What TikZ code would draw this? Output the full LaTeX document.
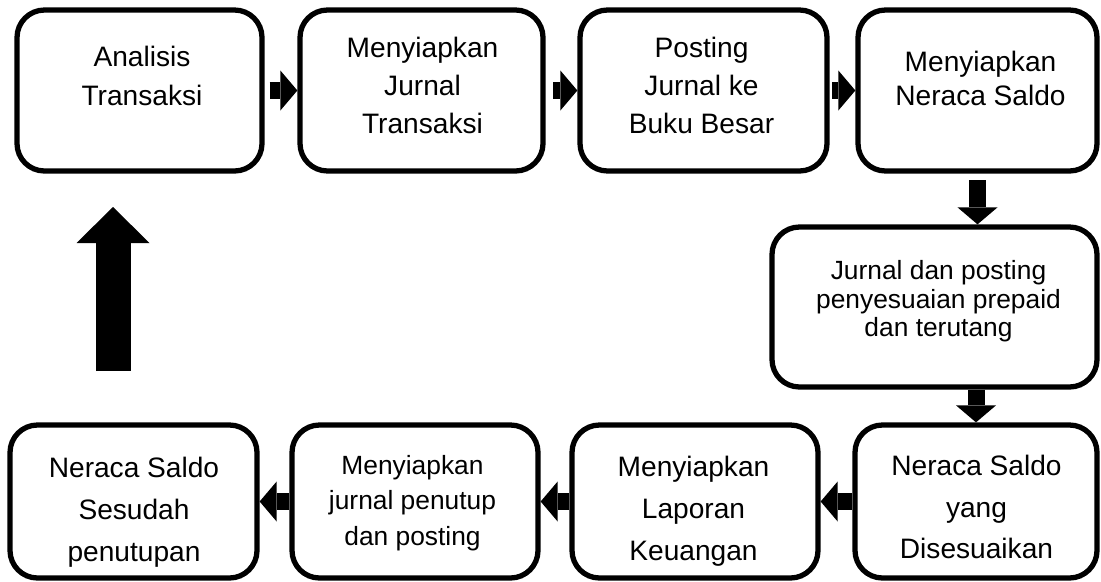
\documentclass[tikz,border=0pt]{standalone}
\usepackage{fontspec}
\setmainfont{Liberation Sans}
\usetikzlibrary{arrows.meta}

\tikzset{
  box/.style={draw, line width=3pt, rounded corners=0.55cm, minimum height=3.22cm},
  lbl/.style={align=center, font=\fontsize{16}{#1}\selectfont},
  lbl/.default=23,
  lblsmall/.style={align=center, font=\fontsize{15}{#1}\selectfont},
  lblsmall/.default=17,
  flow/.style={line width=0.34cm, -{Triangle[width=0.8cm,length=0.34cm,line width=0pt]}},
}

\begin{document}
\begin{tikzpicture}
\useasboundingbox (0,0) rectangle (22.02,11.62);

% top row
\node (b1) at (2.79,9.81) [box, minimum width=4.9cm] {};
\node (b2) at (8.43,9.81) [box, minimum width=4.86cm] {};
\node (b3) at (14.07,9.81) [box, minimum width=4.94cm] {};
\node (b4) at (19.55,9.81) [box, minimum width=4.78cm] {};

% right side
\node (b5) at (18.69,5.48) [box, minimum width=6.5cm, minimum height=3.2cm] {};

% bottom row
\node (b6) at (19.52,1.59) [box, minimum width=4.84cm, minimum height=3.06cm] {};
\node (b7) at (13.9,1.59) [box, minimum width=4.92cm, minimum height=3.06cm] {};
\node (b8) at (8.3,1.59) [box, minimum width=4.92cm, minimum height=3.06cm] {};
\node (b9) at (2.67,1.59) [box, minimum width=4.94cm, minimum height=3.06cm] {};

% box texts
\node (t1) at (2.84,10.10) [lbl=22.7] {Analisis\\Transaksi};
\node (t2) at (8.45,9.91) [lbl=21.8] {Menyiapkan\\Jurnal\\Transaksi};
\node (t3) at (14.03,9.91) [lbl=21.8] {Posting\\Jurnal ke\\Buku Besar};
\node (t4) at (19.61,10.06) [lbl=19.3] {Menyiapkan\\Neraca Saldo};
\node (t5) at (18.77,5.59) [lblsmall=16.2] {Jurnal dan posting\\penyesuaian prepaid\\dan terutang};
\node (t6) at (19.53,1.48) [lbl=23.8] {Neraca Saldo\\yang\\Disesuaikan};
\node (t7) at (13.87,1.40) [lbl=23.8] {Menyiapkan\\Laporan\\Keuangan};
\node (t8) at (8.25,1.56) [lblsmall=20.1] {Menyiapkan\\jurnal penutup\\dan posting};
\node (t9) at (2.68,1.37) [lbl=23.8] {Neraca Saldo\\Sesudah\\penutupan};

% top row arrows
\draw[flow, shorten <=0.1cm] (b1.east) -- (b2.west);
\draw[flow, shorten <=0.15cm] (b2.east) -- (b3.west);
\draw[flow, shorten <=0.05cm] (b3.east) -- (b4.west);

% down the right side
\draw[flow, shorten <=0.13cm] (b4.south) -- (b4.south |- b5.north);
\draw[flow] (b5.south -| b6.north) -- (b6.north);

% bottom row arrows
\draw[flow] (b6.west) -- (b7.east);
\draw[flow] (b7.west) -- (b8.east);
\draw[flow] (b8.west) -- (b9.east);

% back to the start
\coordinate (upfoot) at (2.26,4.2);
\coordinate (uptip) at (2.26,7.48);
\draw[flow, line width=0.7cm, -{Triangle[width=1.46cm,length=0.72cm,line width=0pt]}] (upfoot) -- (uptip);

\end{tikzpicture}
\end{document}
